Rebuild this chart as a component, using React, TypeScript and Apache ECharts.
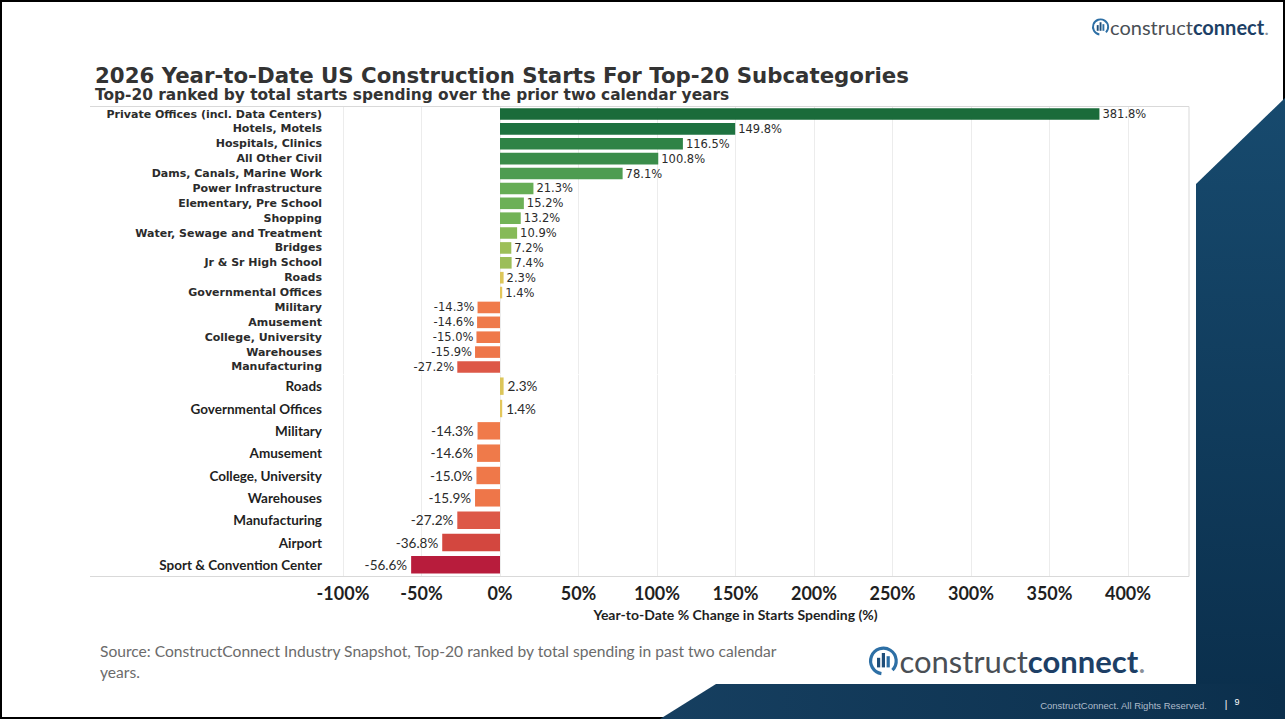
import React, { useEffect, useRef } from "react";
import * as echarts from "echarts";

const topCategories = [
  "Private Offices (incl. Data Centers)",
  "Hotels, Motels",
  "Hospitals, Clinics",
  "All Other Civil",
  "Dams, Canals, Marine Work",
  "Power Infrastructure",
  "Elementary, Pre School",
  "Shopping",
  "Water, Sewage and Treatment",
  "Bridges",
  "Jr & Sr High School",
  "Roads",
  "Governmental Offices",
  "Military",
  "Amusement",
  "College, University",
  "Warehouses",
  "Manufacturing",
];
const topValues = [381.8, 149.8, 116.5, 100.8, 78.1, 21.3, 15.2, 13.2, 10.9, 7.2, 7.4, 2.3, 1.4, -14.3, -14.6, -15.0, -15.9, -27.2];
const topColors = [
  "#1a6b3a", "#1e7240", "#2f8346", "#3a8c4a", "#4e9c51", "#66ad55", "#6cb056", "#72b357",
  "#86ba58", "#9dbf59", "#9cbe59", "#dcc65a", "#e3c75b", "#f07a4a", "#ef7a4a", "#ef7849",
  "#ee7649", "#dd5847",
];

const bottomCategories = [
  "Roads",
  "Governmental Offices",
  "Military",
  "Amusement",
  "College, University",
  "Warehouses",
  "Manufacturing",
  "Airport",
  "Sport & Convention Center",
];
const bottomValues = [2.3, 1.4, -14.3, -14.6, -15.0, -15.9, -27.2, -36.8, -56.6];
const bottomColors = ["#dcc65a", "#e3c75b", "#f07a4a", "#ef7a4a", "#ef7849", "#ee7649", "#dd5847", "#d3473f", "#b81c3c"];

const xMin = -100;
const xMax = 400;
const xStep = 50;

const titleText = "2026 Year-to-Date US Construction Starts For Top-20 Subcategories";
const subtitleText = "Top-20 ranked by total starts spending over the prior two calendar years";
const axisTitle = "Year-to-Date % Change in Starts Spending (%)";
const sourceLine1 = "Source: ConstructConnect Industry Snapshot, Top-20 ranked by total spending in past two calendar";
const sourceLine2 = "years.";

function logo(x: number, y: number, s: number, size: number) {
  return {
    type: "group",
    x,
    y,
    children: [
      {
        type: "arc",
        shape: { cx: 9 * s, cy: 0, r: 8 * s, startAngle: Math.PI * 0.55, endAngle: Math.PI * 2.25 },
        style: { stroke: "#2d6fa5", lineWidth: 2 * s, fill: "none" },
      },
      { type: "rect", shape: { x: 5 * s, y: -2 * s, width: 2 * s, height: 6 * s }, style: { fill: "#1f4e79" } },
      { type: "rect", shape: { x: 8 * s, y: -5 * s, width: 2 * s, height: 9 * s }, style: { fill: "#1f4e79" } },
      { type: "rect", shape: { x: 11 * s, y: -3 * s, width: 2 * s, height: 7 * s }, style: { fill: "#2d6fa5" } },
      {
        type: "text",
        x: 19 * s,
        y: 0,
        style: {
          text: "{a|construct}{b|connect}{c|.}",
          verticalAlign: "middle",
          align: "left",
          rich: {
            a: { fontFamily: "Lato", fontSize: size, fill: "#4a4f55", color: "#4a4f55" },
            b: { fontFamily: "Lato", fontWeight: "bold", fontSize: size, fill: "#1d3f66", color: "#1d3f66" },
            c: { fontFamily: "Lato", fontSize: size, fill: "#8a9099", color: "#8a9099" },
          },
        },
      },
    ],
  };
}

export default function App() {
  const ref = useRef<HTMLDivElement>(null);

  useEffect(() => {
    if (!ref.current) return;
    const chart = echarts.init(ref.current, undefined, { renderer: "svg" });

    const labelFmt = (p: any) => `${Number(p.value).toFixed(1)}%`;

    const option: any = {
      animation: false,
      backgroundColor: "#ffffff",
      grid: [
        { left: 343, right: 157, top: 106.6, height: 267.8, containLabel: false },
        { left: 343, right: 157, top: 375, height: 201, containLabel: false },
      ],
      xAxis: [
        {
          type: "value",
          gridIndex: 0,
          min: xMin,
          max: xMax,
          interval: xStep,
          axisLabel: { show: false },
          axisLine: { show: false },
          axisTick: { show: false },
          splitLine: { show: true, lineStyle: { color: "#ececec", width: 1 } },
        },
        {
          type: "value",
          gridIndex: 1,
          min: xMin,
          max: xMax,
          interval: xStep,
          axisLabel: {
            show: true,
            formatter: (v: number) => `${v}%`,
            fontFamily: "Lato",
            fontWeight: "bold",
            fontSize: 18,
            color: "#1f1f1f",
            margin: 8,
          },
          axisLine: { show: false },
          axisTick: { show: false },
          splitLine: { show: true, lineStyle: { color: "#ececec", width: 1 } },
          name: axisTitle,
          nameLocation: "middle",
          nameGap: 31,
          nameTextStyle: { fontFamily: "Lato", fontWeight: "bold", fontSize: 14, color: "#1f1f1f" },
        },
      ],
      yAxis: [
        {
          type: "category",
          gridIndex: 0,
          data: topCategories,
          inverse: true,
          axisLine: { show: false, onZero: false },
          axisTick: { show: false },
          axisLabel: {
            interval: 0,
            margin: 21,
            fontFamily: "DejaVu Sans",
            fontWeight: "bold",
            fontSize: 11,
            color: "#2b2b2b",
          },
        },
        {
          type: "category",
          gridIndex: 1,
          data: bottomCategories,
          inverse: true,
          axisLine: { show: false, onZero: false },
          axisTick: { show: false },
          axisLabel: {
            interval: 0,
            margin: 21,
            fontFamily: "Lato",
            fontWeight: "bold",
            fontSize: 13.5,
            color: "#1f1f1f",
          },
        },
      ],
      series: [
        {
          type: "bar",
          xAxisIndex: 0,
          yAxisIndex: 0,
          barCategoryGap: "22%",
          data: topValues.map((v, i) => ({
            value: v,
            itemStyle: { color: topColors[i] },
            label: { position: v < 0 ? "left" : "right" },
          })),
          label: {
            show: true,
            formatter: labelFmt,
            fontFamily: "DejaVu Sans",
            fontSize: 11.5,
            color: "#2b2b2b",
            distance: 3,
          },
        },
        {
          type: "bar",
          xAxisIndex: 1,
          yAxisIndex: 1,
          barCategoryGap: "22%",
          data: bottomValues.map((v, i) => ({
            value: v,
            itemStyle: { color: bottomColors[i] },
            label: { position: v < 0 ? "left" : "right" },
          })),
          label: {
            show: true,
            formatter: labelFmt,
            fontFamily: "Lato",
            fontSize: 13.5,
            color: "#2b2b2b",
            distance: 4,
          },
        },
      ],
      graphic: [
        {
          type: "rect",
          z: 0,
          shape: { x: 1, y: 1, width: 1283, height: 717 },
          style: { fill: "none", stroke: "#000000", lineWidth: 2 },
        },
        {
          type: "line",
          z: 1,
          shape: { x1: 90, y1: 106.5, x2: 1189, y2: 106.5 },
          style: { stroke: "#d9d9d9", lineWidth: 1 },
        },
        {
          type: "line",
          z: 1,
          shape: { x1: 90, y1: 576.5, x2: 1189, y2: 576.5 },
          style: { stroke: "#d9d9d9", lineWidth: 1 },
        },
        {
          type: "line",
          z: 1,
          shape: { x1: 1189, y1: 106.5, x2: 1189, y2: 576.5 },
          style: { stroke: "#d9d9d9", lineWidth: 1 },
        },
        {
          type: "polygon",
          z: 5,
          shape: { points: [[1196, 184], [1285, 98], [1285, 719], [1196, 719]] },
          style: {
            fill: new echarts.graphic.LinearGradient(0, 0, 0, 1, [
              { offset: 0, color: "#174a6e" },
              { offset: 1, color: "#0a2e4b" },
            ]),
          },
        },
        {
          type: "polygon",
          z: 5,
          shape: { points: [[660, 719], [716, 684], [1285, 684], [1285, 719]] },
          style: {
            fill: new echarts.graphic.LinearGradient(0, 0, 1, 0, [
              { offset: 0, color: "#163f60" },
              { offset: 1, color: "#0b2f4c" },
            ]),
          },
        },
        {
          type: "text",
          z: 6,
          x: 1207,
          y: 705,
          style: {
            text: "ConstructConnect. All Rights Reserved.",
            fontFamily: "Liberation Sans",
            fontSize: 9.5,
            fill: "#aebccb",
            align: "right",
            verticalAlign: "middle",
          },
        },
        {
          type: "text",
          z: 6,
          x: 1226,
          y: 704,
          style: { text: "|", fontFamily: "Liberation Sans", fontSize: 10, fill: "#ffffff", align: "center", verticalAlign: "middle" },
        },
        {
          type: "text",
          z: 6,
          x: 1237,
          y: 702,
          style: { text: "9", fontFamily: "Liberation Sans", fontSize: 9, fill: "#ffffff", align: "center", verticalAlign: "middle" },
        },
        {
          type: "text",
          z: 3,
          x: 95,
          y: 75,
          style: {
            text: titleText,
            fontFamily: "DejaVu Sans",
            fontWeight: "bold",
            fontSize: 21.3,
            fill: "#333333",
            align: "left",
            verticalAlign: "middle",
          },
        },
        {
          type: "text",
          z: 3,
          x: 95,
          y: 95,
          style: {
            text: subtitleText,
            fontFamily: "DejaVu Sans",
            fontWeight: "bold",
            fontSize: 15.4,
            fill: "#333333",
            align: "left",
            verticalAlign: "middle",
          },
        },
        {
          type: "text",
          z: 3,
          x: 100,
          y: 651,
          style: {
            text: sourceLine1,
            fontFamily: "Lato",
            fontSize: 15.6,
            fill: "#6b6b6b",
            align: "left",
            verticalAlign: "middle",
          },
        },
        {
          type: "text",
          z: 3,
          x: 100,
          y: 672,
          style: {
            text: sourceLine2,
            fontFamily: "Lato",
            fontSize: 15.6,
            fill: "#6b6b6b",
            align: "left",
            verticalAlign: "middle",
          },
        },
        { ...logo(1092, 27, 0.95, 20), z: 3 },
        { ...logo(869, 661, 1.6, 31), z: 3 },
      ],
    };

    chart.setOption(option);
    return () => {
      chart.dispose();
    };
  }, []);

  return (
    <div
      ref={ref}
      style={{ position: "absolute", left: 0, top: 0, width: 1285, height: 719 }}
    />
  );
}
